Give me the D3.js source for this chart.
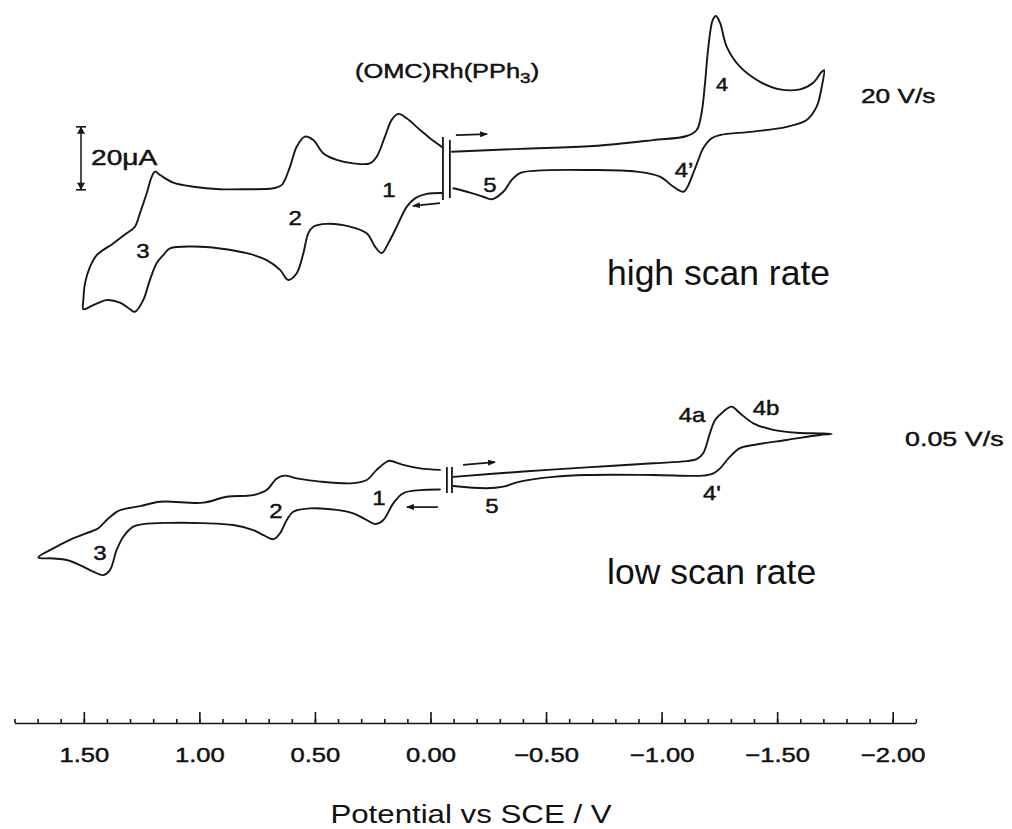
<!DOCTYPE html>
<html>
<head>
<meta charset="utf-8">
<script src="https://cdn.jsdelivr.net/npm/d3@7"></script>
<style>
  html, body { margin: 0; padding: 0; background: #fff; }
  svg { display: block; }
  text { font-family: "Liberation Sans", Arial, Helvetica, sans-serif; fill: #111; }
  text.print { stroke: #111; stroke-width: 0.45px; }
</style>
</head>
<body>
<svg id="chart" width="1012" height="829"></svg>
<script>
// Cyclic voltammograms of (OMC)Rh(PPh3).
// Each point is [potential in V vs SCE, current in µA]; cathodic current is drawn upward.

// 20 V/s: sweep from the start toward negative potentials and back
const fastNegSweep = [
  [-0.093,5.8],[-0.387,6.7],[-0.703,7.6],[-0.963,9.5],[-1.109,10.8],[-1.152,12.7],[-1.173,18.1],
  [-1.188,27.6],[-1.201,38.1],[-1.221,47.6],[-1.235,48.9],[-1.253,46.7],[-1.282,39.1],[-1.339,32.8],
  [-1.426,28.0],[-1.512,25.6],[-1.599,25.6],[-1.655,27.6],[-1.693,31.2],[-1.703,31.7],[-1.693,26.4],
  [-1.671,20.1],[-1.628,15.9],[-1.541,13.7],[-1.397,12.2],[-1.253,11.1],[-1.217,10.1],[-1.180,6.9],
  [-1.159,3.2],[-1.137,-1.0],[-1.109,-5.8],[-1.094,-6.9],[-1.051,-5.3],[-0.993,-2.1],[-0.892,-0.5],
  [-0.676,0],[-0.460,-0.2],[-0.387,-1.0],[-0.351,-3.2],[-0.315,-6.9],[-0.265,-9.3],[-0.228,-8.5],
  [-0.171,-7.2],[-0.099,-5.8]
];
// 20 V/s: sweep toward positive potentials (oxidations 1, 2, 3) and back to the start
const fastPosSweep = [
  [-0.050,-7.3],[0.016,-7.6],[0.067,-9.0],[0.103,-11.7],[0.146,-18.0],[0.183,-23.3],[0.211,-26.4],
  [0.240,-24.3],[0.276,-20.1],[0.348,-18.0],[0.449,-17.1],[0.507,-18.0],[0.529,-20.1],[0.550,-26.4],
  [0.579,-32.8],[0.615,-34.9],[0.651,-31.7],[0.709,-28.6],[0.795,-26.4],[0.911,-24.9],[1.026,-24.3],
  [1.127,-24.9],[1.156,-27.0],[1.185,-29.6],[1.214,-34.9],[1.243,-41.3],[1.279,-45.0],[1.300,-44.2],
  [1.344,-42.1],[1.401,-41.3],[1.459,-42.9],[1.502,-44.2],[1.502,-41.3],[1.495,-36.0],[1.473,-30.7],
  [1.444,-27.0],[1.373,-23.3],[1.315,-20.1],[1.279,-18.0],[1.257,-13.7],[1.228,-7.4],[1.206,-2.1],
  [1.192,-0.5],[1.170,-1.6],[1.113,-4.0],[1.026,-5.3],[0.911,-6.1],[0.795,-6.1],[0.680,-5.8],
  [0.644,-4.8],[0.608,1.0],[0.579,7.4],[0.543,10.6],[0.507,9.5],[0.464,5.3],[0.406,3.2],[0.334,2.1],
  [0.262,2.1],[0.233,4.2],[0.197,10.6],[0.168,15.9],[0.139,17.8],[0.103,16.4],[0.045,12.7],
  [0.002,10.1],[-0.050,7.3]
];

// 0.05 V/s
const slowNegSweep = [
  [-0.099,1.0],[-0.387,2.6],[-0.676,4.0],[-0.964,5.3],[-1.109,6.0],[-1.152,6.6],[-1.180,8.5],
  [-1.209,14.8],[-1.231,19.0],[-1.267,21.7],[-1.303,23.3],[-1.339,21.2],[-1.397,18.0],[-1.483,15.9],
  [-1.585,15.0],[-1.685,14.8],[-1.736,14.6],[-1.685,14.3],[-1.541,12.7],[-1.397,11.1],[-1.339,10.1],
  [-1.296,7.4],[-1.253,3.7],[-1.224,2.1],[-1.180,1.4],[-0.964,1.6],[-0.676,1.6],[-0.531,1.0],
  [-0.387,-0.5],[-0.315,-2.1],[-0.243,-2.6],[-0.099,-1.9]
];
const slowPosSweep = [
  [-0.041,-3.0],[0.045,-3.2],[0.118,-4.2],[0.161,-7.4],[0.204,-12.7],[0.240,-14.0],[0.276,-12.7],
  [0.334,-10.6],[0.406,-9.5],[0.521,-9.0],[0.594,-10.1],[0.622,-12.7],[0.651,-16.9],[0.680,-18.8],
  [0.723,-17.5],[0.767,-15.9],[0.853,-14.3],[0.983,-13.7],[1.127,-13.6],[1.243,-14.0],[1.286,-14.8],
  [1.329,-18.0],[1.358,-22.2],[1.387,-28.6],[1.416,-30.2],[1.459,-29.1],[1.517,-27.0],[1.574,-25.4],
  [1.632,-24.9],[1.697,-24.6],[1.632,-21.7],[1.560,-19.0],[1.488,-16.9],[1.437,-15.3],[1.401,-12.7],
  [1.358,-10.1],[1.329,-9.3],[1.257,-8.3],[1.170,-6.9],[0.983,-7.2],[0.882,-5.3],[0.767,-4.8],
  [0.709,-3.2],[0.665,0.5],[0.630,1.4],[0.579,0.5],[0.478,-0.5],[0.334,-1.0],[0.276,0],[0.233,3.2],
  [0.190,5.8],[0.175,6.1],[0.118,4.8],[0.045,3.7],[-0.041,3.2]
];

// Potential axis
const majorTicks = [1.5, 1.0, 0.5, 0.0, -0.5, -1.0, -1.5, -2.0];
const tickLabels = ["1.50", "1.00", "0.50", "0.00", "\u22120.50", "\u22121.00", "\u22121.50", "\u22122.00"];
const minorTicks = d3.range(18, -22, -1).map(k => k / 10);

// Wave labels: [text, potential, current]
const fastWaveLabels = [["1",0.180,-8.6],["2",0.586,-17.5],["3",1.244,-27.9],["4",-1.261,25.1],["4\u2019",-1.097,-2.2],["5",-0.257,-7.0]];
const slowWaveLabels = [["1",0.223,-7.9],["2",0.669,-12.1],["3",1.430,-25.4],["4a",-1.132,18.4],["4b",-1.452,20.6],["4'",-1.218,-6.3],["5",-0.266,-10.5]];

// Start-of-scan marks [potential, top current, bottom current] and sweep arrows [from V, from I, to V, to I]
const fastStartMarks = [[-0.054,10.5,-9.5],[-0.084,9.5,-8.9]];
const slowStartMarks = [[-0.071,4.1,-4.1],[-0.093,4.1,-4.1]];
const fastArrows = [[-0.110,11.1,-0.245,11.4],[-0.041,-10.5,0.076,-11.4]];
const slowArrows = [[-0.141,4.8,-0.279,5.7],[-0.032,-8.6,0.102,-8.6]];

const scaleBarMicroamp = 20;

// ---------------------------------------------------------------------------
const svg = d3.select("#chart");
const ink = "#161616";

const x = d3.scaleLinear().domain([1.8, -2.1]).range([14.5, 915.8]);
const yFast = d3.scaleLinear().domain([0, 20]).range([170, 107]);
const ySlow = d3.scaleLinear().domain([0, 20]).range([480, 417]);

svg.append("defs").append("marker")
  .attr("id", "head").attr("viewBox", "0 0 8 6")
  .attr("refX", 7).attr("refY", 3)
  .attr("markerWidth", 8).attr("markerHeight", 6)
  .attr("markerUnits", "userSpaceOnUse").attr("orient", "auto")
  .append("path").attr("d", "M0,0L8,3L0,6Z").attr("fill", ink);

function drawTrace(y, sweeps, marks, arrows, labels) {
  const line = d3.line().x(d => x(d[0])).y(d => y(d[1])).curve(d3.curveCatmullRom.alpha(0.5));
  const g = svg.append("g");
  g.selectAll("path.cv").data(sweeps).join("path")
    .attr("class", "cv").attr("d", line)
    .attr("fill", "none").attr("stroke", ink).attr("stroke-width", 1.9)
    .attr("stroke-linejoin", "round").attr("stroke-linecap", "round");
  g.selectAll("line.start").data(marks).join("line")
    .attr("class", "start")
    .attr("x1", d => x(d[0])).attr("x2", d => x(d[0]))
    .attr("y1", d => y(d[1])).attr("y2", d => y(d[2]))
    .attr("stroke", ink).attr("stroke-width", 1.8);
  g.selectAll("line.arrow").data(arrows).join("line")
    .attr("class", "arrow")
    .attr("x1", d => x(d[0])).attr("y1", d => y(d[1]))
    .attr("x2", d => x(d[2])).attr("y2", d => y(d[3]))
    .attr("stroke", ink).attr("stroke-width", 1.7)
    .attr("marker-end", "url(#head)");
  g.selectAll("text.wave").data(labels).join("text")
    .attr("class", "wave print")
    .attr("transform", d => `translate(${x(d[1])},${y(d[2])}) scale(1.2,1)`)
    .attr("text-anchor", "middle")
    .style("font-size", d => d[0] === "4" ? "18px" : "20px")
    .text(d => d[0]);
}

drawTrace(yFast, [fastNegSweep, fastPosSweep], fastStartMarks, fastArrows, fastWaveLabels);
drawTrace(ySlow, [slowNegSweep, slowPosSweep], slowStartMarks, slowArrows, slowWaveLabels);

// Text helper with a horizontal stretch
function note(txt, px, py, size, sx, anchor, cls) {
  return svg.append("text")
    .attr("class", cls || null)
    .attr("transform", `translate(${px},${py}) scale(${sx},1)`)
    .attr("text-anchor", anchor || "start")
    .style("font-size", size + "px")
    .text(txt);
}

// Compound name with subscript
const title = note("(OMC)Rh(PPh", 355, 78, 20, 1.27, "start", "print");
title.append("tspan").attr("dy", 5).style("font-size", "15px").text("3");
title.append("tspan").attr("dy", -5).text(")");

note("20 V/s", 861, 103, 21, 1.25, "start", "print");
note("0.05 V/s", 905, 446, 21, 1.28, "start", "print");
note("high scan rate", 607, 285, 35.5, 1);
note("low scan rate", 607, 584, 35.5, 1);

// 20 µA scale bar
const barX = 81, barTop = 13.7;
const bar = svg.append("g").attr("stroke", ink).attr("fill", ink);
const yb1 = yFast(barTop), yb2 = yFast(barTop - scaleBarMicroamp);
bar.append("line").attr("x1", barX).attr("x2", barX).attr("y1", yb1).attr("y2", yb2).attr("stroke-width", 1.5);
[[yb1, 1], [yb2, -1]].forEach(([yy, s]) => {
  bar.append("line").attr("x1", barX - 5).attr("x2", barX + 5).attr("y1", yy).attr("y2", yy).attr("stroke-width", 1.6);
  bar.append("path").attr("stroke", "none")
    .attr("d", `M${barX},${yy}L${barX - 4},${yy + s * 7}L${barX + 4},${yy + s * 7}Z`);
});
note("20\u03bcA", 91, 165, 22, 1.28, "start", "print");

// Potential axis with ticks pointing up
const axisY = 723;
const minorAxis = svg.append("g").attr("transform", `translate(0,${axisY})`)
  .call(d3.axisBottom(x).tickValues(minorTicks).tickSizeInner(-4).tickSizeOuter(0).tickFormat(""));
minorAxis.select(".domain").remove();
const majorAxis = svg.append("g").attr("transform", `translate(0,${axisY})`)
  .call(d3.axisBottom(x).tickValues(majorTicks).tickSizeInner(-11).tickSizeOuter(0)
    .tickPadding(24).tickFormat((d, i) => tickLabels[i]));
svg.selectAll(".tick line, .domain").attr("stroke", ink).attr("stroke-width", 1.6);
majorAxis.selectAll(".tick text")
  .attr("class", "print")
  .attr("transform", "scale(1.22,1)")
  .style("font-size", "21px")
  .style("font-family", "'Liberation Sans', Arial, sans-serif")
  .attr("fill", "#111");

note("Potential vs SCE / V", 471, 823, 25, 1.25, "middle");
</script>
</body>
</html>
